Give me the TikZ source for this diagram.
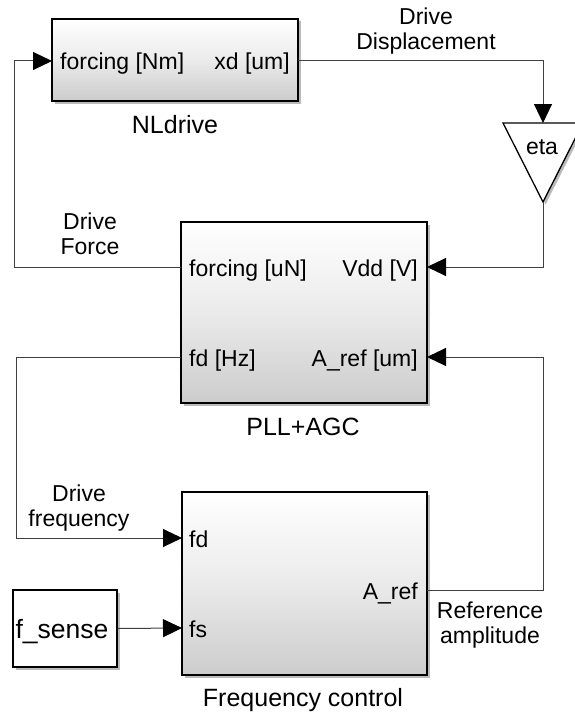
\documentclass[tikz,border=0pt]{standalone}
\usepackage{fontspec}
\setmainfont{Liberation Sans}
\usetikzlibrary{arrows.meta,shadows}
\begin{document}
\begin{tikzpicture}[x=1pt,y=-1pt,
  font=\fontsize{23}{25}\selectfont,
  block/.style={draw=black,line width=1.3pt,top color=white,bottom color=black!20,
    middle color=white!92!black,
    drop shadow={shadow xshift=2.5pt,shadow yshift=-2.5pt,fill=black!60,opacity=.45},
    inner sep=0pt},
  plain/.style={draw=black,line width=1.3pt,fill=white,
    drop shadow={shadow xshift=2.5pt,shadow yshift=-2.5pt,fill=black!60,opacity=.45},
    inner sep=0pt},
  conn/.style={draw=black!75,line width=1pt},
  arr/.style={conn,-{Triangle[length=19pt,width=18pt,black]}},
  portl/.style={anchor=base west,inner sep=0pt},
  portr/.style={anchor=base east,inner sep=0pt},
  lbl/.style={anchor=base,inner sep=0pt,font=\fontsize{25}{27}\selectfont},
  sig/.style={anchor=north,inner sep=0pt,align=center}]
\useasboundingbox (0,0) rectangle (574,717);

% blocks
\node[block,minimum width=246pt,minimum height=82pt] (nl) at (175,60) {};
\node[block,minimum width=246pt,minimum height=181pt] (pll) at (304,312.5) {};
\node[block,minimum width=245pt,minimum height=183pt] (fc) at (304.5,583.5) {};
\node[plain,minimum width=104pt,minimum height=77pt] (fsense) at (65,628.5) {};
\draw[plain] (503,123) -- (583,123) -- (543,202) -- cycle;

% ports
\coordinate (nlin) at (52,61);
\coordinate (nlout) at (298,61);
\coordinate (etain) at (543,123);
\coordinate (etaout) at (543,202);
\coordinate (pllforce) at (181,267);
\coordinate (pllvdd) at (427,267);
\coordinate (pllfd) at (181,357);
\coordinate (pllaref) at (427,357);
\coordinate (fcfd) at (182,538);
\coordinate (fcfs) at (182,628);
\coordinate (fcaref) at (427,590);

% texts
\node[portl] (t1) at (60,70) {forcing [Nm]};
\node[portr] (t2) at (290,70) {xd [um]};
\node[lbl] (t3) at (175,133) {NLdrive};
\node[portl,anchor=base] (eta) at (542,154) {eta};
\node[portl] (t4) at (189,276) {forcing [uN]};
\node[portr] (t5) at (418,276) {Vdd [V]};
\node[portl] (t6) at (189,366) {fd [Hz]};
\node[portr] (t7) at (418,366) {A\_ref [um]};
\node[lbl] (t8) at (303,435) {PLL+AGC};
\node[portl] (t9) at (189,547) {fd};
\node[portl] (t10) at (189,637) {fs};
\node[portr] (t11) at (418,599) {A\_ref};
\node[lbl] (t12) at (303,706) {Frequency control};
\node[lbl,font=\fontsize{26.5}{28}\selectfont] (t13) at (62,638) {f\_sense};

% signal labels
\node[sig] (s1) at (426,8) {Drive\\Displacement};
\node[sig] (s2) at (90,213) {Drive\\Force};
\node[sig] (s3) at (79,485) {Drive\\frequency};
\node[sig] (s4) at (490,602) {Reference\\amplitude};

% connectors
\draw[arr] (nlout) -| (etain);
\draw[arr] (etaout) |- (pllvdd);
\draw[arr] (pllforce) -- ++(-167,0) |- (nlin);
\draw[arr] (pllfd) -- ++(-165,0) |- (fcfd);
\draw[arr] (fsense.east) -- (fcfs);
\draw[arr] (fcaref) -- ++(116,0) |- (pllaref);
\end{tikzpicture}
\end{document}
